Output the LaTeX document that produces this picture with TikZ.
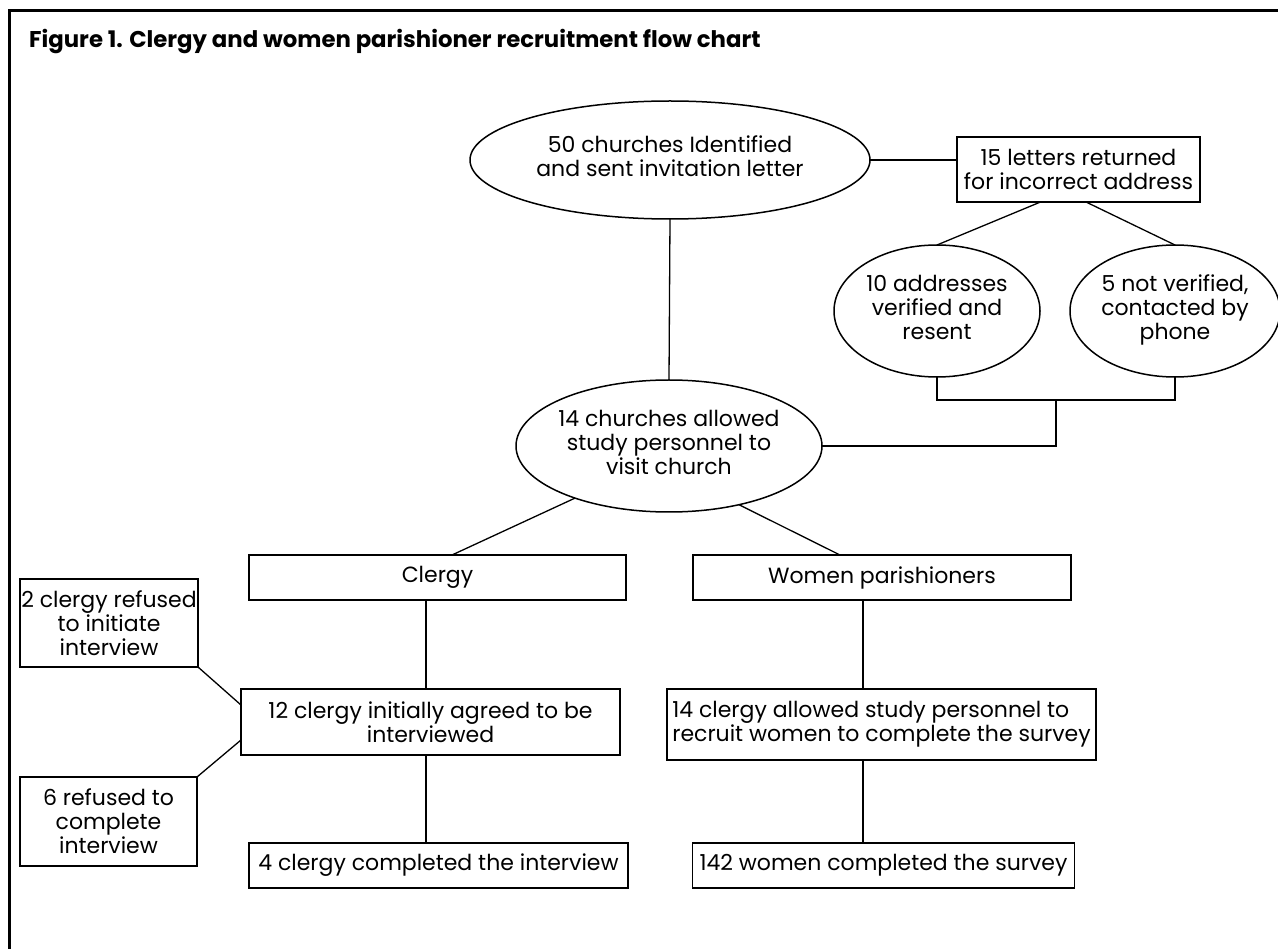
\documentclass[tikz,border=0pt]{standalone}
\usepackage{fontspec}
\setmainfont{Poppins}
\usetikzlibrary{shapes.geometric}
\newcommand{\stk}[1]{\makebox[0pt]{\begin{tabular}{@{}c@{}}#1\end{tabular}}}
\begin{document}
\begin{tikzpicture}[x=1pt,y=-1pt,
  every node/.style={font=\fontsize{22}{24}\selectfont},
  box/.style={draw, line width=1.6pt, rectangle, inner sep=0pt, outer sep=0pt, align=center},
  ell/.style={draw, line width=1.5pt, ellipse, inner sep=0pt, outer sep=0pt},
  link/.style={line width=1.3pt},
  frameline/.style={line width=3.5pt}
]
\useasboundingbox (0,0) rectangle (1278,949);
\draw[frameline] (9.5,949) -- (9.5,10.5) -- (1278,10.5);

\node[anchor=base west, inner sep=0pt, font=\bfseries\fontsize{22.8}{25}\selectfont] (title) at (29,48) {Figure 1. Clergy and women parishioner recruitment flow chart};

\node[ell, minimum width=400pt, minimum height=118pt] (e1) at (670,160) {\stk{50 churches Identified\\and sent invitation letter}};
\node[box, minimum width=243pt, minimum height=65pt] (b15) at (1078.5,169.5) {15 letters returned\\for incorrect address};
\node[ell, minimum width=206pt, minimum height=132pt] (e10) at (937,311) {\stk{10 addresses\\verified and\\resent}};
\node[ell, minimum width=210pt, minimum height=132pt] (e5) at (1175,311) {\stk{5 not verified,\\contacted by\\phone}};
\node[ell, minimum width=306pt, minimum height=132pt] (e14) at (669,446) {\stk{14 churches allowed\\study personnel to\\visit church}};
\node[box, minimum width=377pt, minimum height=45pt] (cl) at (437.5,577.5) {Clergy};
\node[box, minimum width=378pt, minimum height=45pt] (wo) at (882,577.5) {Women parishioners};
\node[box, minimum width=178pt, minimum height=88pt] (r2) at (109,623) {2 clergy refused\\to initiate\\interview};
\node[box, minimum width=379pt, minimum height=66pt] (c12) at (430.5,722) {12 clergy initially agreed to be\\interviewed};
\node[box, align=left, minimum width=429pt, minimum height=71pt] (c14) at (881.5,724.5) {14 clergy allowed study personnel to\\recruit women to complete the survey};
\node[box, minimum width=177pt, minimum height=89pt] (r6) at (108.5,821.5) {6 refused to\\complete\\interview};
\node[box, minimum width=379pt, minimum height=45pt] (c4) at (438.5,865.5) {4 clergy completed the interview};
\node[box, minimum width=382pt, minimum height=45pt] (w142) at (883.5,865.5) {142 women completed the survey};

\draw[link] (e1.east) -- (e1.east -| b15.west);
\draw[link] ([xshift=-38pt]b15.south) -- (e10.north);
\draw[link] ([xshift=7.5pt]b15.south) -- (e5.north);
\coordinate (bm) at (1056,400);
\draw[link] (e10.south) -- (e10.south |- bm) -- (e5.south |- bm) -- (e5.south);
\draw[link] (bm) -- (bm |- e14.east) -- (e14.east);
\draw[link] (e1.south) -- (e14.north);
\draw[link] (e14.209) -- ([xshift=14.5pt]cl.north);
\draw[link] (e14.320) -- ([xshift=-42pt]wo.north);
\coordinate (vl) at (426,0);
\coordinate (vr) at (863,0);
\draw[link] (cl.south -| vl) -- (c12.north -| vl);
\draw[link] (c12.south -| vl) -- (c4.north -| vl);
\draw[link] (wo.south -| vr) -- (c14.north -| vr);
\draw[link] (c14.south -| vr) -- (w142.north -| vr);
\draw[link] (r2.south east) -- ([yshift=17pt]c12.west);
\draw[link] ([yshift=-18pt]c12.west) -- (r6.north east);
\end{tikzpicture}
\end{document}
